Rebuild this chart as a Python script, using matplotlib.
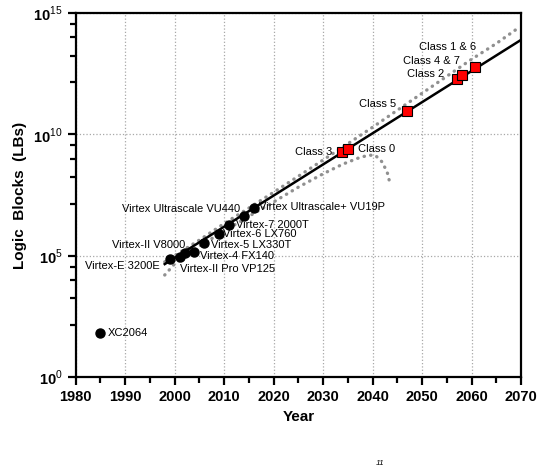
import numpy as np
import matplotlib
matplotlib.use("Agg")
import matplotlib.pyplot as plt
from matplotlib.ticker import FixedLocator, NullFormatter

plt.rcParams['font.family'] = ['Liberation Sans', 'DejaVu Sans']
plt.rcParams['mathtext.fontset'] = 'custom'
plt.rcParams['mathtext.rm'] = 'Liberation Sans'
plt.rcParams['mathtext.bf'] = 'Liberation Sans:bold'

# Xilinx FPGAs (year, logic blocks)
fpga_names = ["XC2064", "Virtex-E 3200E", "Virtex-II V8000", "Virtex-II Pro VP125",
              "Virtex-4 FX140", "Virtex-5 LX330T", "Virtex-6 LX760", "Virtex-7 2000T",
              "Virtex Ultrascale VU440", "Virtex Ultrascale+ VU19P"]
fpga_years = [1985, 1999, 2001, 2002, 2004, 2006, 2009, 2011, 2014, 2016]
fpga_lbs = [64, 73008, 93184, 125136, 142128, 331776, 758784, 1954560, 4407480, 8938000]

# workload classes (year, logic blocks needed)
class_names = ["Class 3", "Class 0", "Class 5", "Class 2", "Class 4 & 7", "Class 1 & 6"]
class_years = [2033.8, 2035.0, 2047.0, 2057.0, 2058.0, 2060.7]
class_lbs = [1.9e9, 2.6e9, 9.1e10, 1.86e12, 2.9e12, 6.2e12]

# fitted trend line
fit_years = [1998, 2070]
fit_lbs = [10**4.66, 10**13.9]

# dotted band curves
upper_years = [1998, 2005, 2010, 2015, 2020, 2025, 2030, 2035, 2040, 2045, 2050, 2055, 2060, 2065, 2069.5]
upper_exp = [4.75, 5.65, 6.33, 6.97, 7.62, 8.28, 8.95, 9.62, 10.3, 11.0, 11.7, 12.4, 13.1, 13.75, 14.4]
lower_years = [1998, 2000, 2005, 2010, 2015, 2020, 2025, 2030, 2034, 2037, 2039, 2040.5, 2042, 2043, 2043.6]
lower_exp = [4.21, 4.67, 5.40, 6.02, 6.63, 7.22, 7.83, 8.38, 8.78, 9.02, 9.14, 9.15, 8.85, 8.4, 7.9]

# label offsets in points (dx, dy, ha)
fpga_offsets = [(5, 0, 'left'), (-7, -5, 'right'), (4, 8, 'right'), (-3, -11, 'left'),
                (4, -3, 'left'), (5, -1, 'left'), (3, 0, 'left'), (5, 0, 'left'),
                (-3, 5, 'right'), (4, 1, 'left')]
class_offsets = [(-7, 0, 'right'), (7, 0, 'left'), (-8, 5, 'right'), (-9, 4, 'right'),
                 (-1, 10, 'right'), (1, 14, 'right')]

fig = plt.figure(figsize=(5.44, 4.68), dpi=100)
ax = fig.add_axes([0.139, 0.194, 0.819, 0.778])

ax.plot(upper_years, 10**np.array(upper_exp), color='#909090', lw=2.4,
        linestyle=(0, (0.1, 1.9)), dash_capstyle='round', zorder=2)
ax.plot(lower_years, 10**np.array(lower_exp), color='#909090', lw=2.4,
        linestyle=(0, (0.1, 1.9)), dash_capstyle='round', zorder=2)
ax.plot(fit_years, fit_lbs, color='black', lw=1.8, zorder=3)

ax.plot(fpga_years, fpga_lbs, 'o', color='black', ms=6.5, zorder=4)
ax.plot(class_years, class_lbs, 's', color='#ff0000', mec='black', mew=0.8, ms=7.5, zorder=5)

for name, x, y, (dx, dy, ha) in zip(fpga_names, fpga_years, fpga_lbs, fpga_offsets):
    ax.annotate(name, (x, y), xytext=(dx, dy), textcoords='offset points',
                ha=ha, va='center', fontsize=8, zorder=6)
for name, x, y, (dx, dy, ha) in zip(class_names, class_years, class_lbs, class_offsets):
    ax.annotate(name, (x, y), xytext=(dx, dy), textcoords='offset points',
                ha=ha, va='center', fontsize=8, zorder=6)

ax.set_yscale('log')
ax.set_xlim(1980, 2070)
ax.set_ylim(1, 1e15)

ax.set_xticks(np.arange(1980, 2071, 10))
ax.set_xticks(np.arange(1985, 2070, 10), minor=True)
ax.set_xticklabels([str(y) for y in range(1980, 2071, 10)], fontweight='bold', fontsize=10.5)

major_exp = [0, 5, 10, 15]
ax.yaxis.set_major_locator(FixedLocator([10.0**e for e in major_exp]))
ax.set_yticklabels([r'$\mathbf{10}^{%d}$' % e for e in major_exp], fontsize=10.5)
minor_fracs = [2.15, 3.25, 4.0, 4.55]
ax.yaxis.set_minor_locator(FixedLocator([10.0**(e + f) for e in [0, 5, 10] for f in minor_fracs]))
ax.yaxis.set_minor_formatter(NullFormatter())

ax.set_xlabel("Year", fontweight='bold', fontsize=11)
ax.set_ylabel("Logic  Blocks  (LBs)", fontweight='bold', fontsize=11)

for s in ax.spines.values():
    s.set_linewidth(1.6)
ax.tick_params(which='major', direction='out', length=6, width=1.6)
ax.tick_params(which='minor', direction='out', length=4, width=1.6)

ax.grid(True, which='major', color='#a8a8a8', linestyle=':', linewidth=0.9)

fig.text(380 / 544, 1 / 468, "11", fontsize=6, style='italic', va='bottom', ha='center')

fig.savefig("out.png", dpi=100)
